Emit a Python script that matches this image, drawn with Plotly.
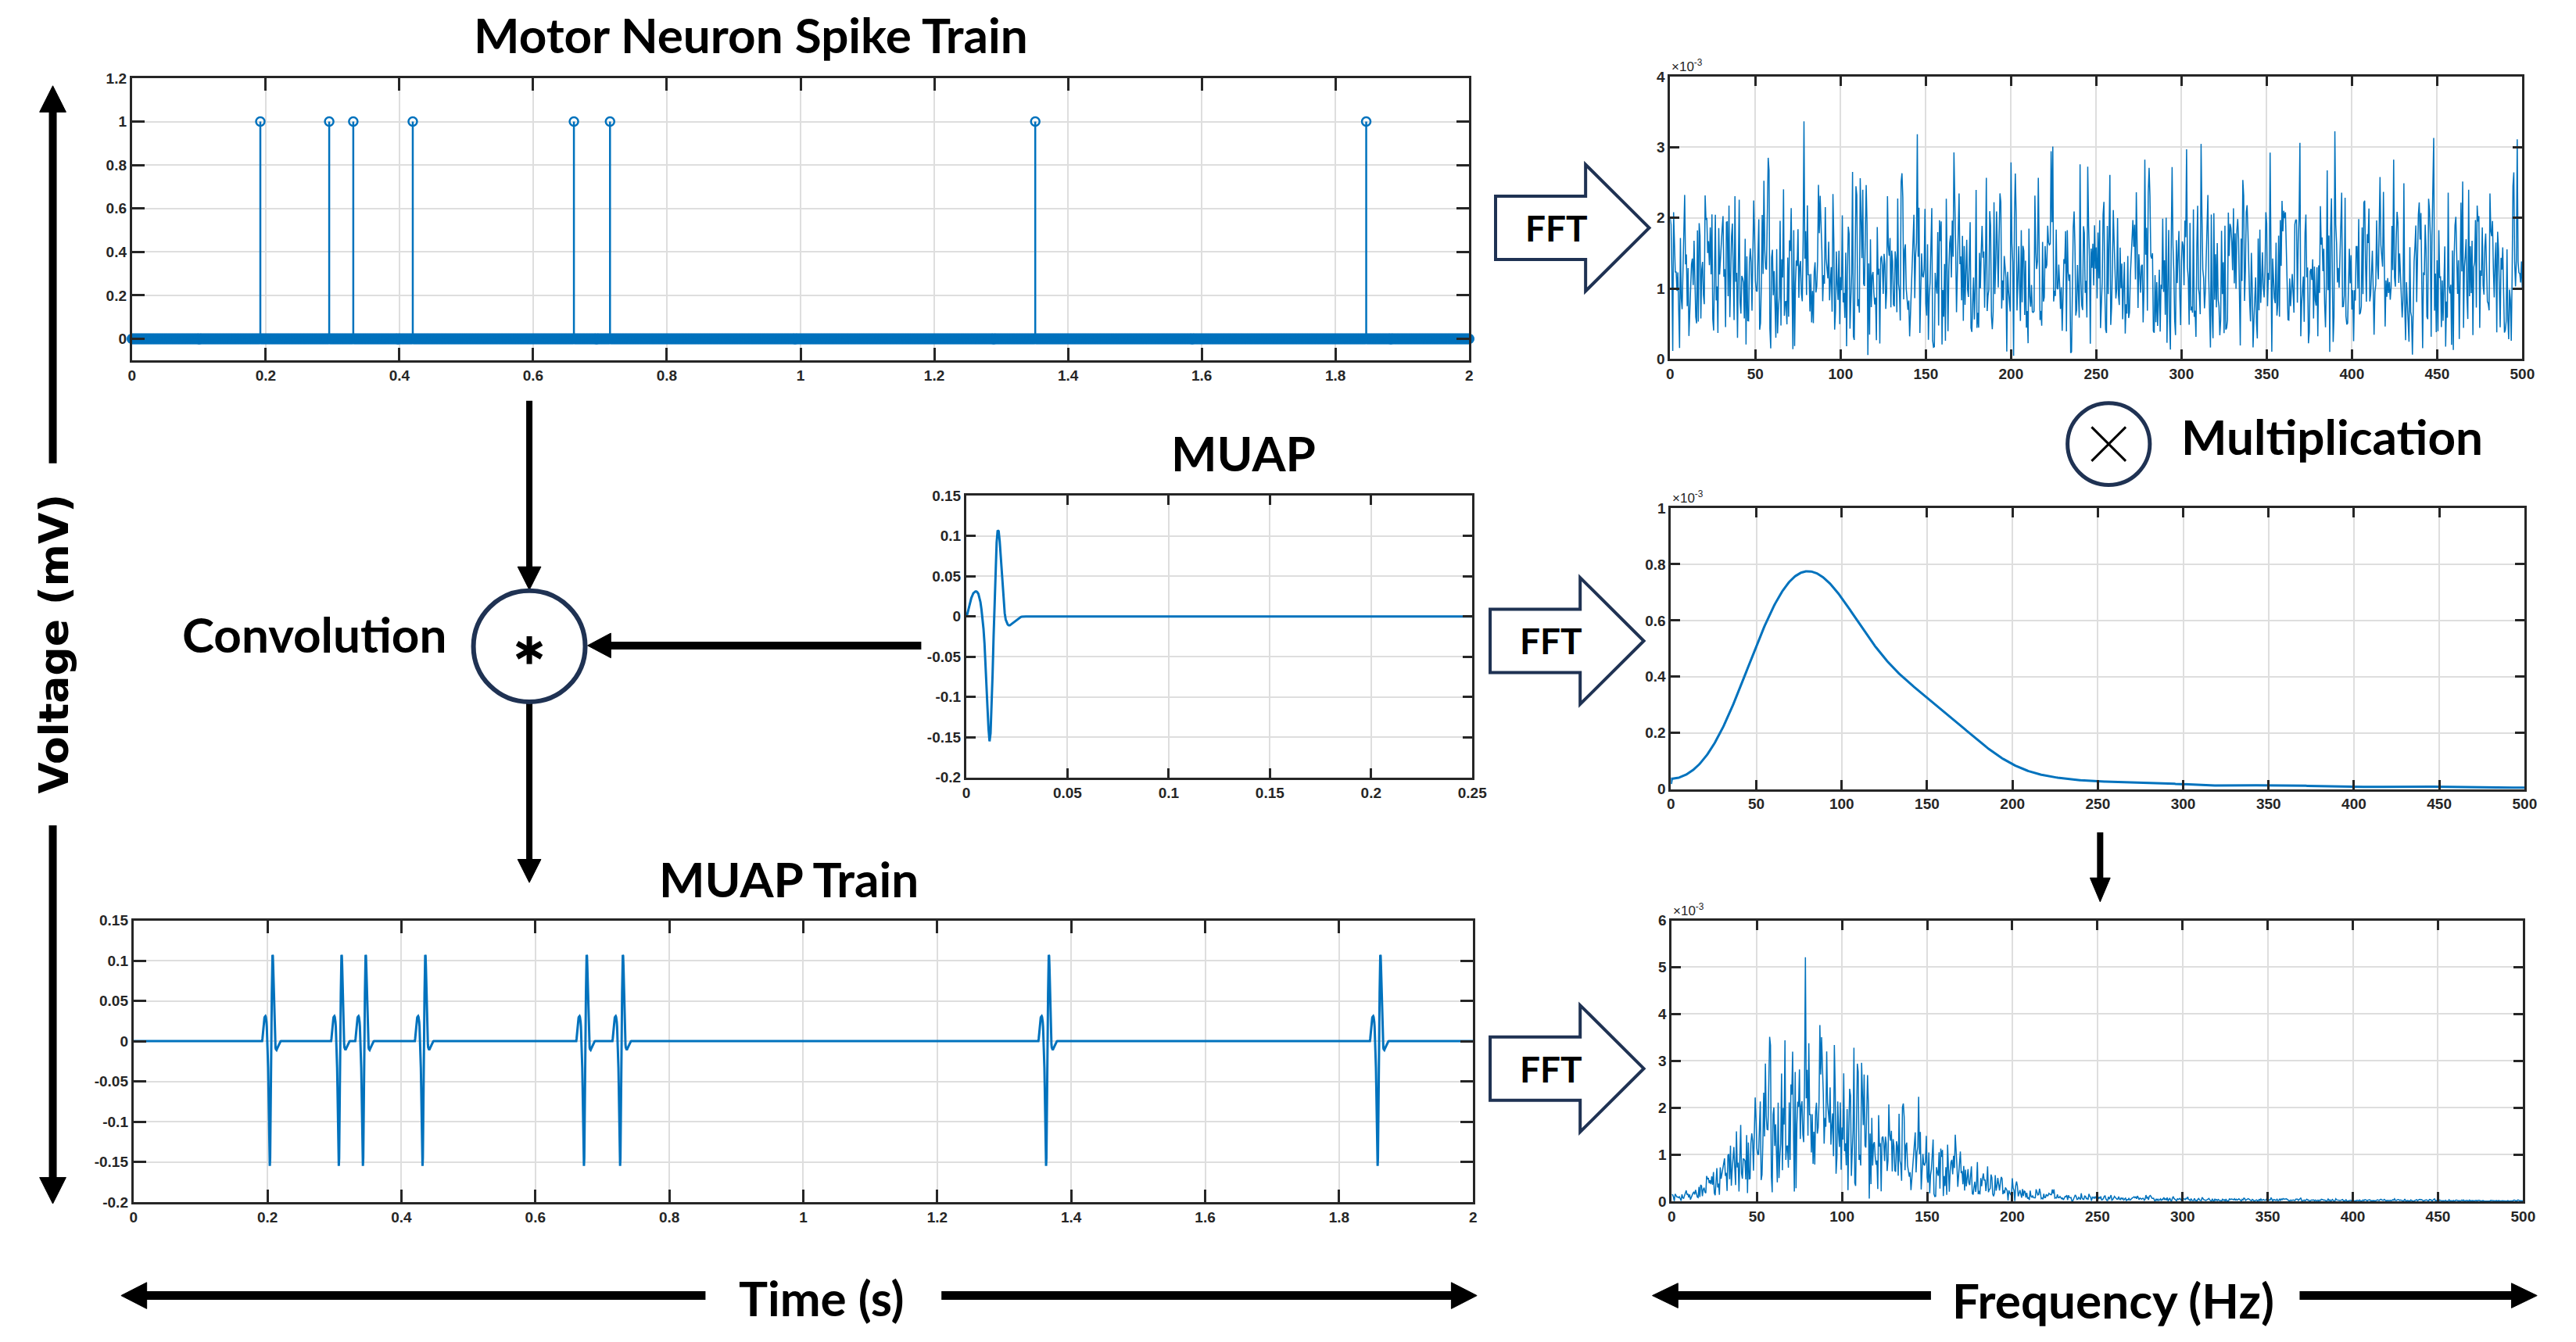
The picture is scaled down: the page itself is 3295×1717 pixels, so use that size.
import numpy as np
import plotly.graph_objects as go

# ---------------- data ----------------
FS = 2000            # sampling rate (Hz)
DURATION = 2.0       # s
spike_times = [0.192, 0.295, 0.331, 0.420, 0.661, 0.715, 1.351, 1.846]

# MUAP waveform samples (mV), one every 0.5 ms
muap_values = [0.000, 0.003, 0.008, 0.014, 0.019, 0.023, 0.026, 0.029, 0.030, 0.031,
               0.031, 0.030, 0.028, 0.024, 0.018, 0.009, -0.002, -0.015, -0.033, -0.056,
               -0.084, -0.114, -0.140, -0.155, -0.145, -0.115, -0.072, -0.025, 0.017, 0.060,
               0.092, 0.107, 0.106, 0.094, 0.076, 0.054, 0.033, 0.016, 0.004, -0.004,
               -0.008, -0.010, -0.011, -0.011, -0.010, -0.009, -0.008, -0.007, -0.006, -0.005,
               -0.004, -0.003, -0.002, -0.0012, -0.0006, -0.0002, 0.000]

spike_xticks = [0, 0.2, 0.4, 0.6, 0.8, 1, 1.2, 1.4, 1.6, 1.8, 2]
spike_xlabels = ['0', '0.2', '0.4', '0.6', '0.8', '1', '1.2', '1.4', '1.6', '1.8', '2']
spike_yticks = [0, 0.2, 0.4, 0.6, 0.8, 1, 1.2]
spike_ylabels = ['0', '0.2', '0.4', '0.6', '0.8', '1', '1.2']
muap_xticks = [0, 0.05, 0.1, 0.15, 0.2, 0.25]
muap_xlabels = ['0', '0.05', '0.1', '0.15', '0.2', '0.25']
volt_yticks = [-0.2, -0.15, -0.1, -0.05, 0, 0.05, 0.1, 0.15]
volt_ylabels = ['-0.2', '-0.15', '-0.1', '-0.05', '0', '0.05', '0.1', '0.15']
freq_xticks = [0, 50, 100, 150, 200, 250, 300, 350, 400, 450, 500]
freq_xlabels = ['0', '50', '100', '150', '200', '250', '300', '350', '400', '450', '500']
fft1_yticks = [0, 1e-3, 2e-3, 3e-3, 4e-3]
fft1_ylabels = ['0', '1', '2', '3', '4']
fft2_yticks = [0, 0.2e-3, 0.4e-3, 0.6e-3, 0.8e-3, 1e-3]
fft2_ylabels = ['0', '0.2', '0.4', '0.6', '0.8', '1']
fft3_yticks = [0, 1e-3, 2e-3, 3e-3, 4e-3, 5e-3, 6e-3]
fft3_ylabels = ['0', '1', '2', '3', '4', '5', '6']

# ---------------- derived signals ----------------
L = int(DURATION * FS)
spikes = np.zeros(L)
spikes[np.round(np.array(spike_times) * FS).astype(int)] = 1.0
t = np.arange(L + 1) / FS
spikes_plot = np.append(spikes, 0.0)

muap = np.array(muap_values)
train = np.convolve(spikes, muap)[:L]
train_plot = np.append(train, 0.0)

n_muap = int(0.25 * FS) + 1
muap_pad = np.zeros(n_muap)
muap_pad[:len(muap)] = muap
t_muap = np.arange(n_muap) / FS


def one_sided(x):
    P2 = np.abs(np.fft.fft(x, L) / L)
    P1 = P2[:L // 2 + 1].copy()
    P1[1:-1] *= 2
    return P1


freq = FS * np.arange(L // 2 + 1) / L
keep = freq <= 500
spec_spikes = one_sided(spikes)[keep]
spec_muap = one_sided(np.pad(muap, (0, L - len(muap))))[keep]
spec_train = one_sided(train)[keep]
freq = freq[keep]

# ---------------- layout helpers ----------------
W, H = 3295, 1717
BLUE = '#0072BD'
NAVY = '#1f3253'
AX = '#262626'


def px(x):
    return x / W


def py(y):
    return 1 - y / H


def dom_x(a, b):
    return [px(a), px(b)]


def dom_y(top, bottom):
    return [py(bottom), py(top)]


def axis(domain, rng, tickvals, ticktext, anchor, ticklen=12):
    return dict(domain=domain, range=rng, tickvals=tickvals, ticktext=ticktext, anchor=anchor,
                showline=True, linewidth=3, linecolor=AX, mirror='allticks',
                ticks='inside', ticklen=ticklen, tickwidth=3, tickcolor=AX,
                showgrid=True, gridcolor='#dedede', gridwidth=2, zeroline=False,
                tickfont=dict(family='Liberation Sans', size=19, color=AX, weight='bold'),
                fixedrange=True)


fig = go.Figure()

# Panel 1: spike train (stem plot)
zero_mask = spikes_plot == 0
fig.add_trace(go.Scatter(x=t[zero_mask], y=spikes_plot[zero_mask], mode='markers',
                         marker=dict(symbol='circle-open', size=11, color=BLUE, line=dict(width=2.5)),
                         xaxis='x', yaxis='y', cliponaxis=False, hoverinfo='skip'))
stem_x, stem_y = [], []
for st in spike_times:
    stem_x += [st, st, None]
    stem_y += [0, 1, None]
fig.add_trace(go.Scatter(x=stem_x, y=stem_y, mode='lines', line=dict(color=BLUE, width=2.5),
                         xaxis='x', yaxis='y', hoverinfo='skip'))
fig.add_trace(go.Scatter(x=spike_times, y=[1] * len(spike_times), mode='markers',
                         marker=dict(symbol='circle-open', size=11, color=BLUE, line=dict(width=2.5)),
                         xaxis='x', yaxis='y', hoverinfo='skip'))

# Panel 2: MUAP
fig.add_trace(go.Scatter(x=t_muap, y=muap_pad, mode='lines', line=dict(color=BLUE, width=3),
                         xaxis='x2', yaxis='y2'))
# Panel 3: MUAP train
fig.add_trace(go.Scatter(x=t, y=train_plot, mode='lines', line=dict(color=BLUE, width=3),
                         xaxis='x3', yaxis='y3'))
# Panel 4: FFT of spike train
fig.add_trace(go.Scatter(x=freq, y=spec_spikes, mode='lines', line=dict(color=BLUE, width=1.5),
                         xaxis='x4', yaxis='y4'))
# Panel 5: FFT of MUAP
fig.add_trace(go.Scatter(x=freq, y=spec_muap, mode='lines', line=dict(color=BLUE, width=3),
                         xaxis='x5', yaxis='y5'))
# Panel 6: FFT of MUAP train
fig.add_trace(go.Scatter(x=freq, y=spec_train, mode='lines', line=dict(color=BLUE, width=1.5),
                         xaxis='x6', yaxis='y6'))

layout = dict(width=W, height=H, margin=dict(l=0, r=0, t=0, b=0),
              paper_bgcolor='white', plot_bgcolor='white', showlegend=False)

layout['xaxis'] = axis(dom_x(165, 1888), [0, 2], spike_xticks, spike_xlabels, 'y', 16)
layout['yaxis'] = axis(dom_y(91, 457), [-0.1, 1.2], spike_yticks, spike_ylabels, 'x', 16)
layout['xaxis2'] = axis(dom_x(1240, 1892), [0, 0.25], muap_xticks, muap_xlabels, 'y2')
layout['yaxis2'] = axis(dom_y(632, 997), [-0.2, 0.15], volt_yticks, volt_ylabels, 'x2')
layout['xaxis3'] = axis(dom_x(167, 1893), [0, 2], spike_xticks, spike_xlabels, 'y3', 16)
layout['yaxis3'] = axis(dom_y(1182, 1547), [-0.2, 0.15], volt_yticks, volt_ylabels, 'x3', 16)
layout['xaxis4'] = axis(dom_x(2147, 3245), [0, 500], freq_xticks, freq_xlabels, 'y4')
layout['yaxis4'] = axis(dom_y(89, 455), [0, 4e-3], fft1_yticks, fft1_ylabels, 'x4')
layout['xaxis5'] = axis(dom_x(2148, 3248), [0, 500], freq_xticks, freq_xlabels, 'y5')
layout['yaxis5'] = axis(dom_y(648, 1012), [0, 1e-3], fft2_yticks, fft2_ylabels, 'x5')
layout['xaxis6'] = axis(dom_x(2149, 3246), [0, 500], freq_xticks, freq_xlabels, 'y6')
layout['yaxis6'] = axis(dom_y(1182, 1546), [0, 6e-3], fft3_yticks, fft3_ylabels, 'x6')

shapes = []


def line_shape(x0, y0, x1, y1, width, color='black'):
    shapes.append(dict(type='line', xref='paper', yref='paper', x0=px(x0), y0=py(y0),
                       x1=px(x1), y1=py(y1), line=dict(color=color, width=width)))


def arrow(x0, y0, x1, y1, shaft_w, head_len, head_hw):
    d = np.array([x1 - x0, y1 - y0], dtype=float)
    d /= np.hypot(*d)
    nrm = np.array([-d[1], d[0]])
    base = np.array([x1, y1]) - d * head_len
    line_shape(x0, y0, base[0] + d[0] * 2, base[1] + d[1] * 2, shaft_w)
    p1 = base + nrm * head_hw
    p2 = base - nrm * head_hw
    path = 'M {} {} L {} {} L {} {} Z'.format(px(x1), py(y1), px(p1[0]), py(p1[1]), px(p2[0]), py(p2[1]))
    shapes.append(dict(type='path', xref='paper', yref='paper', path=path,
                       fillcolor='black', line=dict(color='black', width=1)))


def block_arrow(dx, dy):
    pts = [(1922, 244), (2038, 244), (2038, 203), (2120, 285), (2038, 367), (2038, 326), (1922, 326)]
    path = 'M ' + ' L '.join('{} {}'.format(px(x + dx), py(y + dy)) for x, y in pts) + ' Z'
    shapes.append(dict(type='path', xref='paper', yref='paper', path=path,
                       fillcolor='white', line=dict(color=NAVY, width=4)))


def circle(cx, cy, r, width):
    shapes.append(dict(type='circle', xref='paper', yref='paper', x0=px(cx - r), x1=px(cx + r),
                       y0=py(cy + r), y1=py(cy - r), fillcolor='white', line=dict(color=NAVY, width=width)))


# Axis-direction arrows
arrow(63, 590, 63, 101, 10, 34, 17)
arrow(63, 1059, 63, 1549, 10, 34, 17)
arrow(904, 1668, 151, 1668, 11, 33, 17)
arrow(1208, 1668, 1898, 1668, 11, 33, 17)
arrow(2483, 1668, 2124, 1668, 11, 33, 16)
arrow(2958, 1668, 3264, 1668, 11, 33, 16)
# Flow arrows
arrow(677, 509, 677, 754, 8, 30, 15)
arrow(677, 899, 677, 1133, 8, 30, 15)
arrow(1182, 826, 752, 826, 10, 30, 16)
arrow(2701, 1068, 2701, 1158, 8, 31, 13)

# FFT block arrows
block_arrow(0, 0)
block_arrow(-7, 535)
block_arrow(-7, 1089)

# Convolution circle with asterisk
circle(677, 827, 72, 6)
acx, acy, arm = 677, 832, 18
line_shape(acx, acy - arm, acx, acy + arm, 7)
line_shape(acx - arm * 0.866, acy - arm * 0.5, acx + arm * 0.866, acy + arm * 0.5, 7)
line_shape(acx - arm * 0.866, acy + arm * 0.5, acx + arm * 0.866, acy - arm * 0.5, 7)

# Multiplication circle with x
circle(2712, 565, 53, 5)
line_shape(2690, 543, 2734, 587, 3)
line_shape(2734, 543, 2690, 587, 3)

layout['shapes'] = shapes

TITLE_FONT = dict(family='Lato', size=62, color='black', weight='bold')
annotations = []


def text(x, y, s, font, angle=0, xanchor='center', yanchor='middle'):
    annotations.append(dict(x=px(x), y=py(y), xref='paper', yref='paper', text=s, showarrow=False,
                            font=font, textangle=angle, xanchor=xanchor, yanchor=yanchor))


text(963, 34, 'Motor Neuron Spike Train', TITLE_FONT)
text(1597, 576, 'MUAP', TITLE_FONT)
text(1011, 1128, 'MUAP Train', TITLE_FONT)
text(400, 811, 'Convolution', TITLE_FONT)
text(3000, 555, 'Multiplication', TITLE_FONT)
text(1054, 1670, 'Time (s)', TITLE_FONT)
text(2718, 1673, 'Frequency (Hz)', TITLE_FONT)
text(64, 824, 'Voltage (mV)', dict(family='DejaVu Sans', size=52, color='black', weight='bold'), angle=-90)

FFT_FONT = dict(family='Lato', size=46, color='black', weight='bold')
text(2001, 285, 'FFT', FFT_FONT)
text(1994, 820, 'FFT', FFT_FONT)
text(1994, 1374, 'FFT', FFT_FONT)

EXP_FONT = dict(family='Liberation Sans', size=17, color=AX)
text(2147, 88, '\u00d710<sup>-3</sup>', EXP_FONT, xanchor='left', yanchor='bottom')
text(2148, 647, '\u00d710<sup>-3</sup>', EXP_FONT, xanchor='left', yanchor='bottom')
text(2149, 1181, '\u00d710<sup>-3</sup>', EXP_FONT, xanchor='left', yanchor='bottom')

layout['annotations'] = annotations
fig.update_layout(**layout)
fig.write_html('out.html', config={'displayModeBar': False},
               post_script="document.body.style.margin='0';document.body.style.overflow='hidden';")
